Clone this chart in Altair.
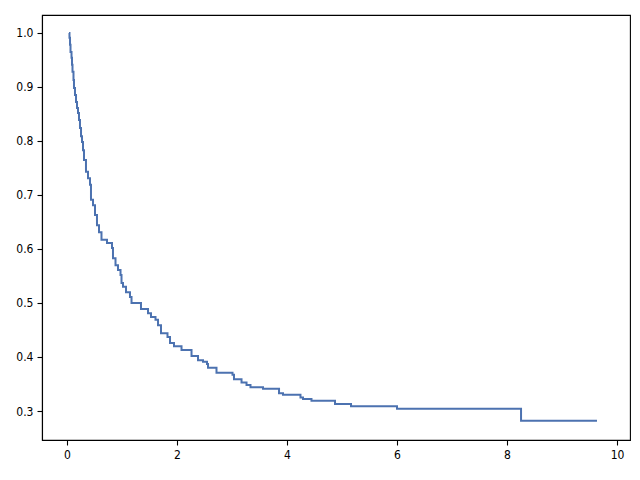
import altair as alt
import pandas as pd

times = [0.036, 0.045, 0.055, 0.064, 0.082, 0.091, 0.100, 0.118, 0.127, 0.145,
         0.164, 0.182, 0.200, 0.218, 0.236, 0.255, 0.273, 0.291, 0.309, 0.345,
         0.382, 0.418, 0.436, 0.473, 0.509, 0.545, 0.582, 0.627, 0.727, 0.818,
         0.836, 0.882, 0.927, 0.973, 0.991, 1.018, 1.073, 1.145, 1.173, 1.345,
         1.473, 1.527, 1.609, 1.655, 1.709, 1.827, 1.873, 1.945, 2.082, 2.264,
         2.382, 2.473, 2.545, 2.564, 2.718, 3.009, 3.036, 3.173, 3.264, 3.336,
         3.564, 3.855, 3.927, 4.245, 4.291, 4.445, 4.873, 5.164, 6.000, 8.255,
         9.636]
survival = [1.000, 0.991, 0.978, 0.965, 0.954, 0.941, 0.928, 0.913, 0.898, 0.885,
            0.872, 0.861, 0.852, 0.839, 0.824, 0.809, 0.798, 0.783, 0.765, 0.743,
            0.731, 0.719, 0.691, 0.681, 0.663, 0.644, 0.631, 0.617, 0.611, 0.602,
            0.583, 0.570, 0.561, 0.552, 0.537, 0.530, 0.520, 0.511, 0.500, 0.489,
            0.481, 0.474, 0.469, 0.459, 0.444, 0.437, 0.426, 0.420, 0.413, 0.402,
            0.394, 0.391, 0.387, 0.380, 0.371, 0.367, 0.359, 0.353, 0.348, 0.344,
            0.341, 0.333, 0.330, 0.325, 0.322, 0.319, 0.313, 0.309, 0.304, 0.282,
            0.282]

x_ticks = [0, 2, 4, 6, 8, 10]
y_ticks = [0.3, 0.4, 0.5, 0.6, 0.7, 0.8, 0.9, 1.0]

df = pd.DataFrame({"t": times, "s": survival})

FONT = "DejaVu Sans Condensed, DejaVu Sans, sans-serif"

chart = alt.Chart(df).mark_line(
    interpolate="step-after", color="#4c72b0", strokeWidth=2
).encode(
    x=alt.X("t:Q", scale=alt.Scale(domain=[-0.4545, 10.236], nice=False, zero=False),
            axis=alt.Axis(values=x_ticks, format="d", title=None, grid=False)),
    y=alt.Y("s:Q", scale=alt.Scale(domain=[0.2463, 1.0333], nice=False, zero=False),
            axis=alt.Axis(values=y_ticks, format=".1f", title=None, grid=False)),
).properties(
    width=588, height=425,
    autosize=alt.AutoSizeParams(type="none"),
    padding={"left": 34, "top": 7, "right": 2, "bottom": 30},
).configure_view(
    stroke="black", strokeWidth=1.1
).configure_axis(
    domainColor="black", domainWidth=1.1, tickColor="black", tickWidth=1.1,
    tickSize=5, labelPadding=4, labelColor="black", labelFont=FONT,
    labelFontSize=12,
)

chart.save("out.html", embed_options={"renderer": "svg", "actions": False})
